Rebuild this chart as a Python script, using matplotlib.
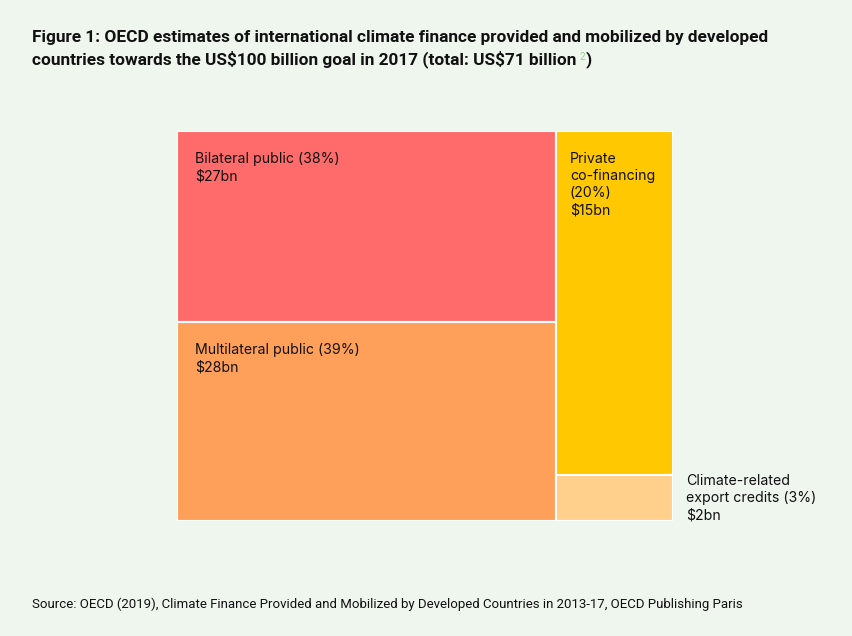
import matplotlib
matplotlib.use("Agg")
import matplotlib.pyplot as plt
from matplotlib.patches import Rectangle

plt.rcParams["text.parse_math"] = False

# ---- data ----
categories = ["Bilateral public", "Multilateral public", "Private\nco-financing", "Climate-related\nexport credits"]
values_bn = [27, 28, 15, 2]
shares_pct = [38, 39, 20, 3]
column_of = [0, 0, 1, 1]
colors = ["#FF6B6B", "#FFA05A", "#FFC800", "#FFD08C"]

BG = "#EEF6EE"
W, H = 853, 636
fig = plt.figure(figsize=(W / 100, H / 100), dpi=100, facecolor=BG)

def px(x, y, w, h):
    return [x / W, 1 - (y + h) / H, w / W, h / H]

ax = fig.add_axes(px(177, 131, 496, 390))
ax.set_facecolor(BG)
ax.set_xlim(0, 1)
ax.set_ylim(1, 0)
ax.axis("off")

# slice-and-dice treemap from values
total = sum(values_bn)
col_tot = {}
for c, v in zip(column_of, values_bn):
    col_tot[c] = col_tot.get(c, 0) + v
x0 = 0.0
rects = []
for c in sorted(col_tot):
    w = col_tot[c] / total
    y0 = 0.0
    for i, (cc, v) in enumerate(zip(column_of, values_bn)):
        if cc != c:
            continue
        h = v / col_tot[c]
        rects.append((i, x0, y0, w, h))
        y0 += h
    x0 += w

lfont = "Inter"
tfont_name = "Roboto"
for i, x, y, w, h in rects:
    ax.add_patch(Rectangle((x, y), w, h, facecolor=colors[i], edgecolor="white", linewidth=1.5))
    label = f"{categories[i]} ({shares_pct[i]}%)\n${values_bn[i]}bn"
    if i == 2:
        label = f"{categories[i]}\n({shares_pct[i]}%)\n${values_bn[i]}bn"
    if i == 3:
        ax.annotate(label, xy=(x + w, y), xycoords="data", xytext=(9.5, 1), textcoords="offset points",
                    ha="left", va="top", fontsize=10.2, family=lfont, color="#111111", linespacing=1.3,
                    annotation_clip=False)
    else:
        off = (13, -15) if i != 2 else (10, -15)
        ax.annotate(label, xy=(x, y), xycoords="data", xytext=off, textcoords="offset points",
                    ha="left", va="top", fontsize=10.2, family=lfont, color="#111111", linespacing=1.3)

# title
tfont = dict(family=tfont_name, fontweight="bold", fontsize=12.4, color="#111111")
fig.text(32 / W, 1 - 30 / H, "Figure 1: OECD estimates of international climate finance provided and mobilized by developed",
         ha="left", va="top", **tfont)
t2 = fig.text(32 / W, 1 - 50 / H, "countries towards the US$100 billion goal in 2017 (total: US$71 billion",
              ha="left", va="top", **tfont)
fig.canvas.draw()
r = fig.canvas.get_renderer()
bb = t2.get_window_extent(r)
sup = fig.text((bb.x1 + 3) / W, (bb.y1 - 2) / H, "2", ha="left", va="top", family=tfont_name,
               fontsize=7, color="#8FD48F")
fig.canvas.draw()
bb2 = sup.get_window_extent(r)
fig.text((bb2.x1 + 1) / W, bb.y0 / H, ")", ha="left", va="bottom", **tfont)

fig.text(32 / W, 1 - 598 / H,
         "Source: OECD (2019), Climate Finance Provided and Mobilized by Developed Countries in 2013-17, OECD Publishing Paris",
         ha="left", va="top", family=tfont_name, fontsize=9.5, color="#111111")

fig.savefig("out.png", dpi=100, facecolor=BG)
